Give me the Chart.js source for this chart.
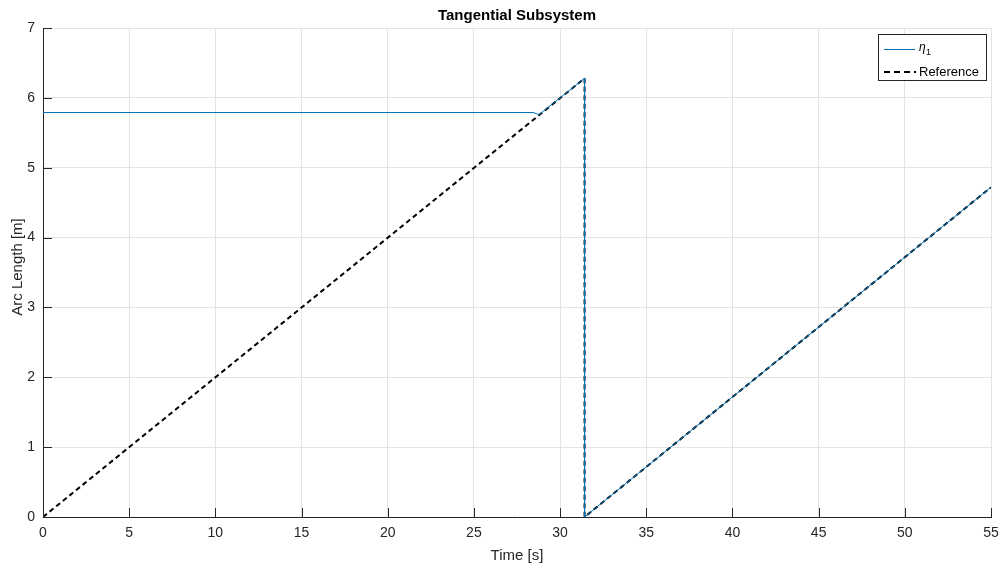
<!DOCTYPE html>
<html>
<head>
<meta charset="utf-8">
<script src="https://cdn.jsdelivr.net/npm/chart.js@4"></script>
<style>
  html, body { margin: 0; padding: 0; background: #fff; }
  #chart-container { width: 1003px; height: 570px; }
</style>
</head>
<body>
<div id="chart-container"><canvas id="myChart"></canvas></div>
<script>
// values
const etaTime = [0, 28.43, 28.78, 31.42, 31.42, 55];
const etaArc = [5.79, 5.79, 5.76, 6.28, 0, 4.72];
const refTime = [0, 31.42, 31.42, 55];
const refArc = [0, 6.28, 0, 4.72];
const xTicks = [0, 5, 10, 15, 20, 25, 30, 35, 40, 45, 50, 55];
const yTicks = [0, 1, 2, 3, 4, 5, 6, 7];

const axisColor = '#262626';
const gridColor = '#e3e3e3';
const fontName = "'Liberation Sans', Arial, sans-serif";

function toPoints(xs, ys) {
    return xs.map(function (x, i) { return { x: x, y: ys[i] }; });
}

// MATLAB style ticks that point into the plot
const innerTicks = {
    id: 'innerTicks',
    afterDraw(chart) {
        const ctx = chart.ctx;
        const area = chart.chartArea;
        const xs = chart.scales.x;
        const ys = chart.scales.y;
        ctx.save();
        ctx.strokeStyle = axisColor;
        ctx.lineWidth = 1;
        ctx.beginPath();
        xTicks.forEach(function (t) {
            const px = Math.round(xs.getPixelForValue(t)) + 0.5;
            ctx.moveTo(px, area.bottom);
            ctx.lineTo(px, area.bottom - 9);
        });
        yTicks.forEach(function (t) {
            const py = Math.round(ys.getPixelForValue(t)) + 0.5;
            ctx.moveTo(area.left, py);
            ctx.lineTo(area.left + 9, py);
        });
        ctx.stroke();
        ctx.restore();
    }
};

// title, y label and legend box
const extras = {
    id: 'extras',
    afterDraw(chart) {
        const ctx = chart.ctx;
        const area = chart.chartArea;
        ctx.save();
        ctx.fillStyle = '#000';
        ctx.font = 'bold 15px ' + fontName;
        ctx.textAlign = 'center';
        ctx.textBaseline = 'middle';
        ctx.fillText('Tangential Subsystem', (area.left + area.right) / 2, 16);

        ctx.save();
        ctx.fillStyle = axisColor;
        ctx.font = '15px ' + fontName;
        ctx.translate(18, 267);
        ctx.rotate(-Math.PI / 2);
        ctx.fillText('Arc Length [m]', 0, 0);
        ctx.restore();

        // legend
        const bx = 878.5, by = 34.5, bw = 108, bh = 46;
        ctx.fillStyle = '#fff';
        ctx.fillRect(bx, by, bw, bh);
        ctx.strokeStyle = axisColor;
        ctx.lineWidth = 1;
        ctx.strokeRect(bx, by, bw, bh);

        const ds = chart.data.datasets;
        ctx.strokeStyle = ds[0].borderColor;
        ctx.lineWidth = 1;
        ctx.beginPath();
        ctx.moveTo(884, 49.5);
        ctx.lineTo(915, 49.5);
        ctx.stroke();

        ctx.strokeStyle = ds[1].borderColor;
        ctx.lineWidth = 2;
        ctx.setLineDash([6, 4]);
        ctx.beginPath();
        ctx.moveTo(884, 72);
        ctx.lineTo(916, 72);
        ctx.stroke();
        ctx.setLineDash([]);

        ctx.fillStyle = '#000';
        ctx.textAlign = 'left';
        ctx.font = 'italic 12px ' + fontName;
        ctx.fillText('η', 919, 48);
        ctx.font = '9px ' + fontName;
        ctx.fillText('1', 926, 53);
        ctx.font = '13px ' + fontName;
        ctx.fillText('Reference', 919, 72);
        ctx.restore();
    }
};

const data = {
    datasets: [{
        label: 'η1',
        data: toPoints(etaTime, etaArc),
        borderColor: '#0072BD',
        borderWidth: 1,
        pointRadius: 0,
        showLine: true,
        fill: false
    }, {
        label: 'Reference',
        data: toPoints(refTime, refArc),
        borderColor: '#000000',
        borderWidth: 2,
        borderDash: [5, 3.5],
        pointRadius: 0,
        showLine: true,
        fill: false
    }]
};

const config = {
    type: 'scatter',
    data: data,
    options: {
        responsive: false,
        animation: false,
        layout: {
            padding: { top: 28, right: 12, left: 0, bottom: 0 }
        },
        scales: {
            x: {
                type: 'linear',
                min: 0,
                max: 55,
                afterBuildTicks: function (scale) {
                    scale.ticks = xTicks.map(function (v) { return { value: v }; });
                },
                afterFit: function (scale) {
                    scale.height = 53;
                    scale.paddingRight = 0;
                    scale.paddingLeft = 0;
                },
                grid: { color: gridColor, drawTicks: false },
                border: { color: axisColor, width: 1 },
                ticks: {
                    color: axisColor,
                    padding: 8,
                    maxRotation: 0,
                    font: { family: fontName, size: 14 }
                },
                title: {
                    display: true,
                    text: 'Time [s]',
                    color: axisColor,
                    padding: { top: 0, bottom: 5 },
                    font: { family: fontName, size: 15 }
                }
            },
            y: {
                type: 'linear',
                min: 0,
                max: 7,
                afterBuildTicks: function (scale) {
                    scale.ticks = yTicks.map(function (v) { return { value: v }; });
                },
                afterFit: function (scale) { scale.width = 43; },
                grid: { color: gridColor, drawTicks: false },
                border: { color: axisColor, width: 1 },
                ticks: {
                    color: axisColor,
                    padding: 8,
                    font: { family: fontName, size: 14 }
                }
            }
        },
        plugins: {
            legend: { display: false },
            tooltip: { enabled: false }
        }
    },
    plugins: [innerTicks, extras]
};

const canvas = document.getElementById('myChart');
canvas.width = 1003;
canvas.height = 570;
const myChart = new Chart(canvas, config);
</script>
</body>
</html>
